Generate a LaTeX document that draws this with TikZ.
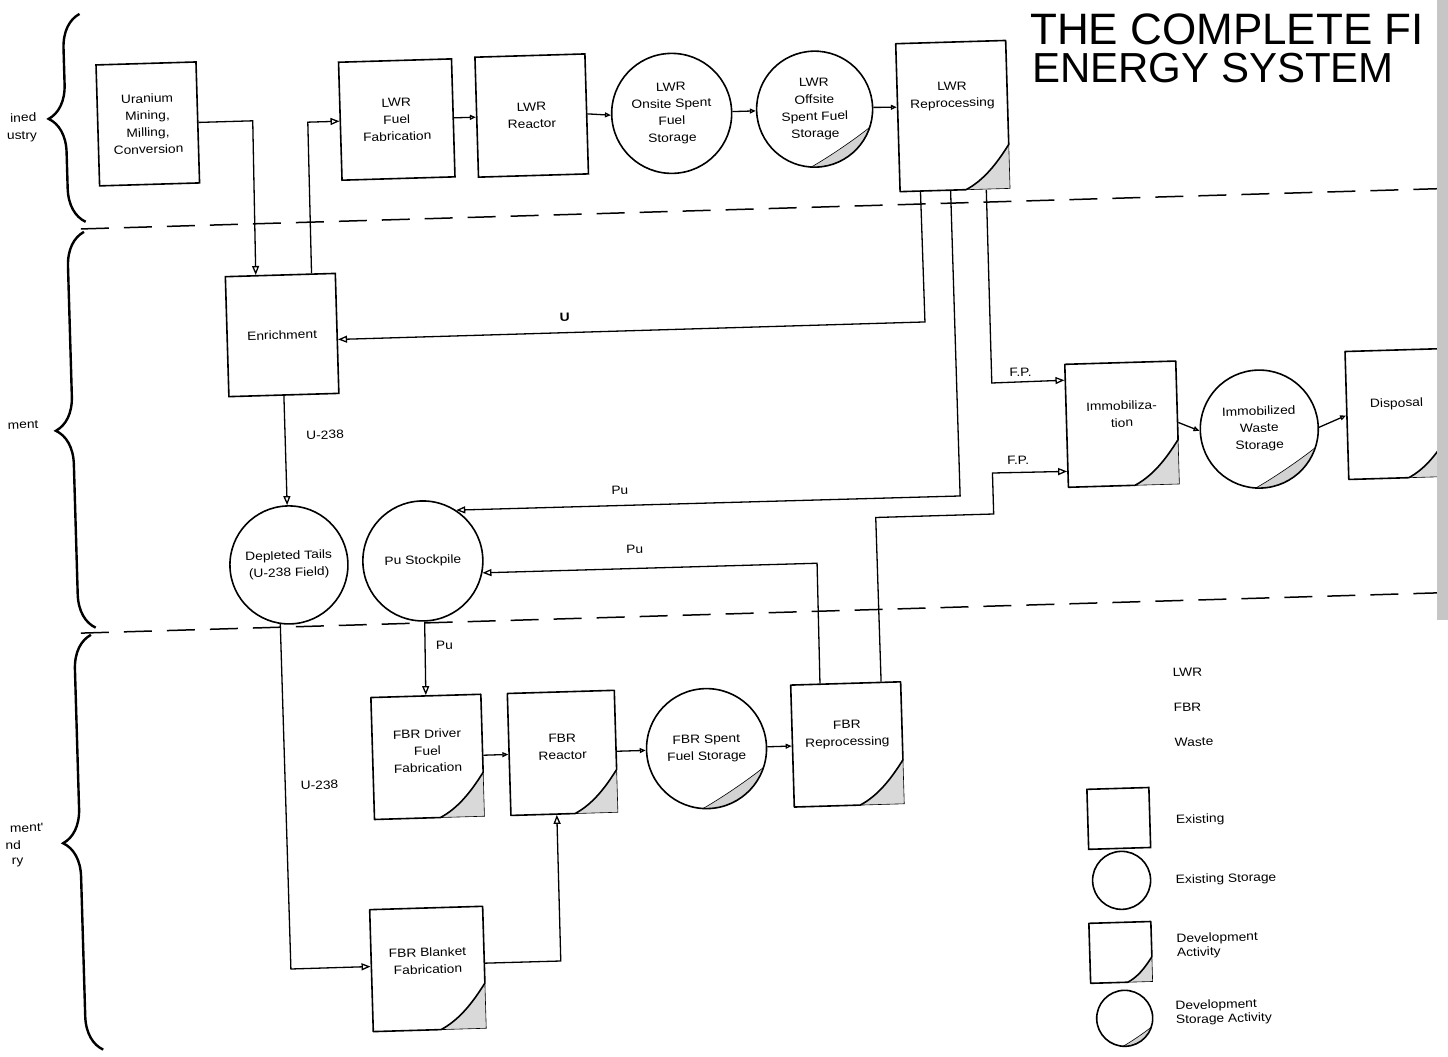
\documentclass[tikz,border=0pt]{standalone}
\usepackage{fontspec}
\newfontfamily\labfont[FakeStretch=1.15]{Liberation Sans}
\newfontfamily\ttlfnt{Liberation Sans}
\usetikzlibrary{arrows.meta,calc,decorations.pathreplacing}
\newcommand\devbox[7]{%
  \pgfmathsetmacro\dbW{#4/2}\pgfmathsetmacro\dbH{#5/2}\pgfmathsetmacro\dbC{0.4*#4}%
  \node[rectangle, minimum width=#4, minimum height=#5, inner sep=0pt, outer sep=0.8pt] (#1) at (#2,#3) {};
  \begin{scope}[shift={(#2,#3)}]
    \fill[gray!30] (\dbW-\dbC,\dbH) .. controls (\dbW-0.6*\dbC,\dbH-0.2*\dbC) and (\dbW-0.3*\dbC,\dbH-0.55*\dbC) .. (\dbW,\dbH-\dbC) -- (\dbW,\dbH) -- cycle;
    \draw[line width=0.6pt] (\dbW-\dbC,\dbH) -- (\dbW,\dbH) -- (\dbW,\dbH-\dbC);
    \draw[outl] (\dbW,\dbH-\dbC) -- (\dbW,-\dbH) -- (-\dbW,-\dbH) -- (-\dbW,\dbH) -- (\dbW-\dbC,\dbH) .. controls (\dbW-0.6*\dbC,\dbH-0.2*\dbC) and (\dbW-0.3*\dbC,\dbH-0.55*\dbC) .. (\dbW,\dbH-\dbC) -- cycle;
    \node[lbl] at (0,#7) {#6};
  \end{scope}}
\newcommand\devcirc[5]{%
  \begin{scope}[shift={(#2,#3)}]
    \fill[gray!35] (20:#4) arc[start angle=20,end angle=95,radius=#4] .. controls (75:{0.86*#4}) and (40:{0.86*#4}) .. (20:#4);
    \draw[line width=0.6pt] (95:#4) .. controls (75:{0.86*#4}) and (40:{0.86*#4}) .. (20:#4);
  \end{scope}
  \node[stor, minimum size=2*#4] (#1) at (#2,#3) {#5};}
\begin{document}
\begin{tikzpicture}[x=1pt,y=-1pt,
  lbl/.style={font=\labfont\fontsize{12}{17}\selectfont, align=center, inner sep=1pt},
  outl/.style={line width=1.6pt, line join=round},
  exbox/.style={lbl, draw, line width=1.6pt, rectangle, inner sep=0pt},
  stor/.style={lbl, draw, line width=1.6pt, circle, inner sep=0pt},
  arr/.style={line width=1.3pt, -{Triangle[open,length=9pt,width=7pt]}},
  sarr/.style={line width=1.3pt, -{Triangle[open,length=6pt,width=5pt]}},
  brc/.style={decorate, decoration={brace, amplitude=34pt}, line width=2.4pt},
  sep/.style={line width=1.5pt, dash pattern=on 28pt off 15pt},
  tag/.style={font=\labfont\fontsize{12}{14}\selectfont, inner sep=1pt},
  ttl/.style={anchor=west, inner sep=0pt},
]
\fill[white] (0,0) rectangle (1448,1057);
\useasboundingbox (0,0) rectangle (1448,1057);
\begin{scope}[rotate around={1.7:(724,528)}, transform shape]
% separators and braces
\draw[sep] (90,210) -- (1452,210);
\draw[sep] (78,614) -- (1452,614);
\draw[brc] (95,203) -- (95,-5);
\draw[brc] (93,609) -- (93,213);
\draw[brc] (88,1031) -- (88,616);
\node[tag, anchor=east] (g1a) at (50,97) {ined};
\node[tag, anchor=east] (g1b) at (50,116) {ustry};
\node[tag, anchor=east] (g2) at (43,404) {ment};
\node[tag, anchor=east] (g3a) at (36,807) {ment'};
\node[tag, anchor=east] (g3b) at (13,824) {nd};
\node[tag, anchor=east] (g3c) at (15,841) {ry};
% top row
\node[exbox, minimum width=100, minimum height=121] (um) at (160,107) {Uranium\\Mining,\\Milling,\\Conversion};
\node[exbox, minimum width=113, minimum height=118] (lff) at (409,110) {LWR\\Fuel\\Fabrication};
\node[exbox, minimum width=110, minimum height=120] (lr) at (544,110) {LWR\\Reactor};
\node[stor, minimum size=120] (los) at (684,112) {LWR\\Onsite Spent\\Fuel\\Storage};
\devcirc{lof}{827}{112}{58}{LWR\\Offsite\\Spent Fuel\\Storage}
\devbox{lrp}{965}{123}{110}{148}{LWR\\Reprocessing}{-20}
% middle
\node[exbox, minimum width=110, minimum height=120] (enr) at (288,322) {Enrichment};
\node[stor, minimum size=118] (dt) at (288,552) {Depleted Tails\\(U-238 Field)};
\node[stor, minimum size=120] (pus) at (422,552) {Pu Stockpile};
\devbox{imm}{1125}{436}{111}{123}{Immobiliza-\\tion}{-10}
\devcirc{iws}{1262}{445}{59}{Immobilized\\Waste\\Storage}
\devbox{disp}{1400}{434}{100}{128}{Disposal}{-10}
% bottom
\devbox{fdf}{421}{748}{110}{122}{FBR Driver\\Fuel\\Fabrication}{-6}
\devbox{fr}{556}{748}{107}{122}{FBR\\Reactor}{-6}
\devcirc{fsf}{700}{748}{60}{FBR Spent\\Fuel Storage}
\devbox{frp}{841}{748}{110}{122}{FBR\\Reprocessing}{-10}
\devbox{fbf}{415}{960}{113}{122}{FBR Blanket\\Fabrication}{-8}
% corner points
\coordinate (k1) at (265,107);
\coordinate (k2) at (320,110);
\coordinate (k3) at (931,328);
\coordinate (k4) at (961,503);
\coordinate (k5) at (996,391);
\coordinate (k6) at (876,522);
\coordinate (k7) at (994,522);
\coordinate (k8) at (994,481);
\coordinate (k9) at (816,566);
\coordinate (k10) at (278,956);
\coordinate (k11) at (548,956);
% connectors
\draw[arr] (um.east) -- (k1) -- ($(enr.north west)!0.28!(enr.north east)$);
\draw[arr] ($(enr.north west)!0.78!(enr.north east)$) -- (k2) -- (lff.west);
\draw[sarr] (lff.east) -- (lr.west);
\draw[sarr] (lr.east) -- (los.west);
\draw[sarr] (los.east) -- (lof.west);
\draw[sarr] (lof.east) -- ($(lrp.north west)!0.43!(lrp.south west)$);
\draw[arr] ($(lrp.south west)!0.19!(lrp.south east)$) -- (k3) -- ($(enr.north east)!0.55!(enr.south east)$);
\draw[arr] ($(lrp.south west)!0.46!(lrp.south east)$) -- (k4) -- (pus.55);
\draw[arr] ($(lrp.south west)!0.78!(lrp.south east)$) -- (k5) -- ($(imm.north west)!0.134!(imm.south west)$);
\draw[arr] ($(frp.north west)!0.818!(frp.north east)$) -- (k6) -- (k7) -- (k8) -- ($(imm.north west)!0.866!(imm.south west)$);
\draw[arr] ($(frp.north west)!0.27!(frp.north east)$) -- (k9) -- (pus.-13);
\draw[arr] (enr.south) -- (dt.north);
\draw[arr] (pus.south) -- (fdf.north);
\draw[arr] (dt.260) -- (k10) -- ($(fbf.north west)!0.467!(fbf.south west)$);
\draw[arr] ($(fbf.north east)!0.467!(fbf.south east)$) -- (k11) -- ($(fr.south west)!0.43!(fr.south east)$);
\draw[sarr] (fdf.east) -- (fr.west);
\draw[sarr] (fr.east) -- (fsf.west);
\draw[sarr] (fsf.east) -- (frp.west);
\draw[sarr] (imm.east) -- (iws.west);
\draw[sarr] (iws.east) -- (disp.west);
% flow labels
\node[tag] (lu) at (571,313) {\textbf{U}};
\node[tag] (lpu1) at (621,487) {Pu};
\node[tag] (lpu2) at (634,547) {Pu};
\node[tag] (lpu3) at (441,637) {Pu};
\node[tag] (lu1) at (328,423) {U-238};
\node[tag] (lu2) at (312,773) {U-238};
\node[tag] (lfp1) at (1025,381) {F.P.};
\node[tag] (lfp2) at (1020,469) {F.P.};
% legend
\node[tag, anchor=west] (kl1) at (1167,686) {LWR};
\node[tag, anchor=west] (kl2) at (1167,721) {FBR};
\node[tag, anchor=west] (kl3) at (1167,756) {Waste};
\node[exbox, minimum width=62, minimum height=60] (lgb) at (1110,830) {};
\node[tag, anchor=west] (lgbt) at (1166,834) {Existing};
\node[stor, minimum size=58] (lgc) at (1111,892) {};
\node[tag, anchor=west] (lgct) at (1164,894) {Existing Storage};
\devbox{lgd}{1108}{964}{62}{60}{}{0}
\node[tag, anchor=west, align=left] (lgdt) at (1163,960) {Development\\Activity};
\devcirc{lgs}{1110}{1030}{28}{}
\node[tag, anchor=west, align=left] (lgst) at (1160,1027) {Development\\Storage Activity};
\end{scope}
% title
\node[ttl, font=\ttlfnt\fontsize{44}{46}\selectfont] (t1) at (1030,29) {THE COMPLETE FI};
\node[ttl, font=\ttlfnt\fontsize{42}{44}\selectfont] (t2) at (1032,68) {ENERGY SYSTEM};
\fill[gray!45] (1437,0) rectangle (1448,620);
\end{tikzpicture}
\end{document}
